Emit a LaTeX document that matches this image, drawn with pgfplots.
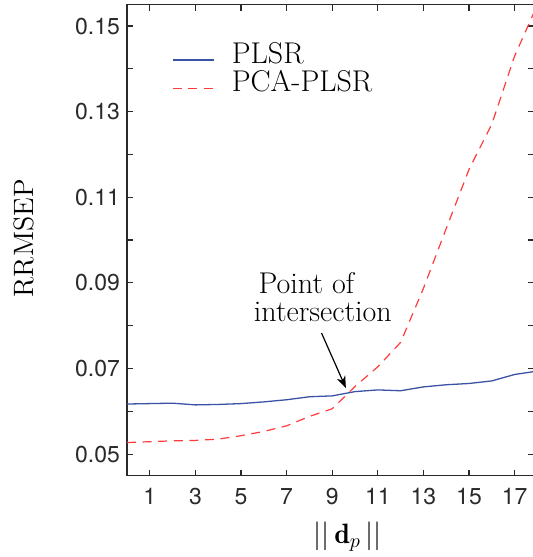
\documentclass[border=0pt]{standalone}
\usepackage{fontspec}
\usepackage{pgfplots}
\pgfplotsset{compat=1.18}
\usetikzlibrary{calc,arrows.meta}
\newfontfamily\helv{TeX Gyre Heros}
\definecolor{plsrblue}{HTML}{3A53A4}
\definecolor{pcared}{HTML}{FF3B3B}
\definecolor{axgrey}{HTML}{2A2A2A}

\begin{document}
\begin{tikzpicture}
\begin{axis}[
  scale only axis, width=203.5pt, height=235.4pt,
  xmin=0, xmax=17.85, ymin=0.045, ymax=0.155,
  xtick={1,3,...,17},
  ytick={0.05,0.07,0.09,0.11,0.13,0.15},
  yticklabels={0.05,0.07,0.09,0.11,0.13,0.15},
  minor ytick={0.06,0.08,0.10,0.12,0.14},
  tick align=inside, major tick length=3pt, minor tick length=3pt,
  tick style={axgrey,line width=0.6pt},
  axis line style={axgrey,line width=0.8pt},
  ticklabel style={font=\helv\fontsize{11.5}{13}\selectfont,text=axgrey},
  xticklabel style={yshift=-3pt},
  /pgf/number format/assume math mode=true,
  legend style={at={(rel axis cs:0.11,0.93)},anchor=north west,
                draw=none,fill=none,inner sep=0pt,row sep=-2pt,
                font=\fontsize{15}{18}\selectfont},
  legend cell align=left,
  legend image code/.code={\path[draw=none,fill=none] (0pt,-6pt) rectangle (27.5pt,6pt);
                           \draw[#1] (0pt,-3pt) -- (20.5pt,-3pt);},
]
\addplot[plsrblue,line width=0.65pt] coordinates {
  (0,0.0617) (1,0.0618) (2,0.0619) (3,0.0615) (4,0.0616) (5,0.0618)
  (6,0.0622) (7,0.0627) (8,0.0634) (9,0.0636) (10,0.0646) (11,0.0650)
  (12,0.0648) (13,0.0657) (14,0.0662) (15,0.0665) (16,0.0671)
  (17,0.0686) (18,0.0694)};
\addplot[pcared,line width=0.6pt,dash pattern=on 4.5pt off 3.3pt] coordinates {
  (0,0.0527) (1,0.0529) (2,0.0531) (3,0.0532) (4,0.0535) (5,0.0543)
  (6,0.0553) (7,0.0566) (8,0.0588) (9,0.0606) (10,0.0658) (11,0.0704)
  (12,0.0761) (13,0.0887) (14,0.1027) (15,0.1165) (16,0.1271)
  (17,0.1430) (18,0.1550)};
\legend{PLSR, PCA-PLSR}
\node[anchor=base,font=\fontsize{15}{18}\selectfont] at (axis cs:7.87,0.08743) {Point of};
\node[anchor=base,font=\fontsize{15}{18}\selectfont] at (axis cs:8.59,0.0810) {intersection};
\draw[-{Stealth[length=6pt,width=4.5pt]},line width=0.6pt]
  (axis cs:8.53,0.0783) -- (axis cs:9.6,0.06544);
\coordinate (asw) at (rel axis cs:0,0);
\coordinate (ane) at (rel axis cs:1,1);
\coordinate (ylab) at (rel axis cs:0,0.504);
\coordinate (xlab) at (rel axis cs:0.542,0);
\end{axis}
\node[rotate=90,font=\fontsize{14}{16}\selectfont] at ($(ylab)+(-51.5pt,0pt)$) {RRMSEP};
\node[font=\fontsize{14}{16}\selectfont] at ($(xlab)+(0pt,-30.6pt)$) {$||\,\mathbf{d}_p\,||$};
\pgfresetboundingbox
\path[use as bounding box] ($(asw)+(-63.5pt,-40.75pt)$) rectangle ($(ane)+(-0.5pt,2.35pt)$);
\end{tikzpicture}
\end{document}
